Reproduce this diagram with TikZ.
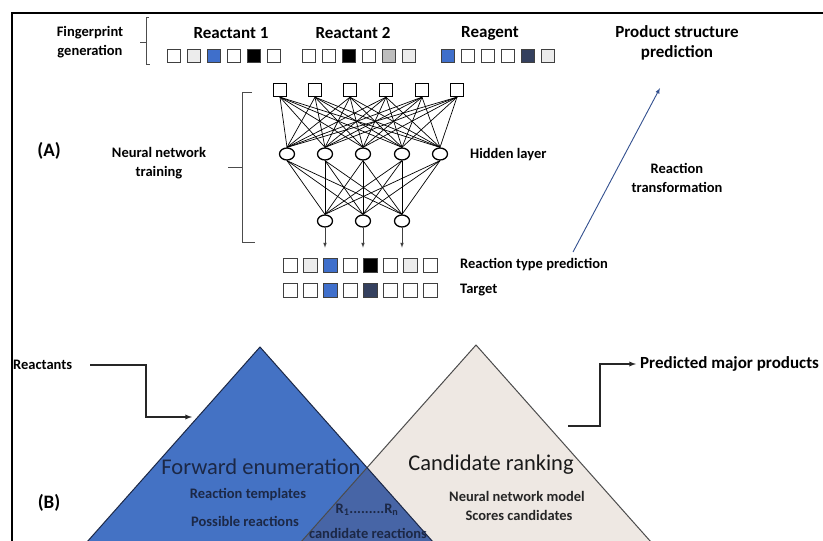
\documentclass[tikz,border=0pt]{standalone}
\usepackage{fontspec}
\setmainfont{Carlito}
\usetikzlibrary{shapes, arrows, positioning, fit, backgrounds}

\definecolor{fpblue}{HTML}{3F6FCB}
\definecolor{fpnavy}{HTML}{34405E}
\definecolor{fpgray}{HTML}{BDBDBD}
\definecolor{fplight}{HTML}{ECECEC}
\definecolor{fwdblue}{HTML}{4472C4}
\definecolor{overlapblue}{HTML}{4765A6}
\definecolor{rankbeige}{HTML}{EEE8E3}
\definecolor{arrowblue}{HTML}{33508F}
\definecolor{textnavy}{HTML}{1C2846}

\tikzset{
  lbl/.style={font=\fontsize{14.5}{19}\selectfont\bfseries, align=center, inner sep=0pt},
  head/.style={font=\fontsize{17}{20}\selectfont\bfseries, align=center, inner sep=0pt},
  part/.style={font=\fontsize{19}{22}\selectfont\bfseries, inner sep=0pt},
  cell/.style={draw=black!75, line width=1pt, minimum size=13pt, inner sep=0pt},
  bigcell/.style={cell, minimum size=14pt},
  inunit/.style={draw, line width=1.3pt, fill=white, minimum size=13pt, inner sep=0pt},
  hidunit/.style={draw, ellipse, line width=1.3pt, fill=white, minimum width=15pt, minimum height=12pt, inner sep=0pt},
  link/.style={line width=0.7pt},
  elbow/.style={line width=1.3pt, black!85, -latex},
  big/.style={font=\fontsize{22.5}{26}\selectfont, inner sep=0pt},
  small/.style={font=\fontsize{14.5}{17}\selectfont\bfseries, inner sep=0pt},
}

\begin{document}
\begin{tikzpicture}[x=1pt, y=-1pt]
\useasboundingbox (0,0) rectangle (823,541);

% Frame
\draw[line width=2pt] (12,541) -- (12,13) -- (823,13);

% (A) fingerprint generation
\node[lbl] (fpgen) at (90,42) {Fingerprint\\generation};
\draw[line width=1pt, black!70] (149,17) -- (146,17) -- (146,64) -- (150,64);
\draw[line width=1pt, black!70] (146,42) -- (140,42);

\node[head] (react1) at (231,33) {Reactant 1};
\node[head] (react2) at (353,33) {Reactant 2};
\node[head] (reagent) at (490,33) {Reagent};
\node[head] (product) at (677,43) {Product structure\\prediction};

\foreach \c [count=\i] in {white,fplight,fpblue,white,black,white}
  \node[cell, fill=\c] (ra\i) at ({174+20*(\i-1)},56) {};
\foreach \c [count=\i] in {white,white,black,white,fpgray,fplight}
  \node[cell, fill=\c] (rb\i) at ({309+20*(\i-1)},56) {};
\foreach \c [count=\i] in {fpblue,white,white,white,fpnavy,fplight}
  \node[cell, fill=\c] (rg\i) at ({448+20*(\i-1)},56) {};

% Neural network
\node[part] (parta) at (49,151) {(A)};
\node[lbl] (nntrain) at (159,163) {Neural network\\training};
\draw[line width=1pt, black!70] (252,92) -- (242,92) -- (242,242) -- (255,242);
\draw[line width=1pt, black!70] (242,167) -- (228,167);

\foreach \x [count=\i] in {280,315,350,386,422,457}
  \node[inunit] (in\i) at (\x,90) {};
\foreach \x [count=\i] in {287,325,363,402,440}
  \node[hidunit] (hid\i) at (\x,154) {};
\foreach \x [count=\i] in {325,363,402}
  \node[hidunit] (out\i) at (\x,221) {};

\begin{scope}[on background layer]
\foreach \i in {1,...,6}
  \foreach \j in {1,...,5}
    \draw[link] (in\i.south) -- (hid\j.north);
\foreach \j in {1,...,5}
  \foreach \k in {1,...,3}
    \draw[link] (hid\j.south) -- (out\k.north);
\end{scope}

\node[lbl, anchor=west] (hidden) at (470,155) {Hidden layer};

\foreach \k in {1,2,3}
  \draw[-latex, line width=0.7pt, black!75] (out\k.south) -- ++(0,20);

% Prediction and target
\foreach \c [count=\i] in {white,fplight,fpblue,white,black,white,fplight,white}
  \node[bigcell, fill=\c] (pr\i) at ({290+20*(\i-1)},265) {};
\foreach \c [count=\i] in {white,white,fpblue,white,fpnavy,white,white,white}
  \node[bigcell, fill=\c] (tg\i) at ({290+20*(\i-1)},290) {};
\node[lbl, anchor=west] (typepred) at (460,265) {Reaction type prediction};
\node[lbl, anchor=west] (target) at (460,290) {Target};

% Reaction transformation
\coordinate (rtstart) at (573,252);
\coordinate (rtend) at (660,88);
\draw[-latex, line width=0.9pt, arrowblue] (rtstart) -- (rtend);
\node[lbl] (rtrans) at (677,178) {Reaction\\transformation};

% (B) triangles
\coordinate (fwdtop) at (260,347);
\coordinate (fwdl) at (71,560);
\coordinate (fwdr) at (449,560);
\coordinate (ranktop) at (476,345);
\coordinate (rankl) at (285,560);
\coordinate (rankr) at (667,560);

\begin{scope}
\clip (0,0) rectangle (823,541);
\fill[rankbeige] (rankl) -- (ranktop) -- (rankr) -- cycle;
\fill[fwdblue] (fwdl) -- (fwdtop) -- (fwdr) -- cycle;
\begin{scope}
\clip (fwdl) -- (fwdtop) -- (fwdr) -- cycle;
\fill[overlapblue] (rankl) -- (ranktop) -- (rankr) -- cycle;
\end{scope}
\draw[line width=1pt, black!70] (rankl) -- (ranktop) -- (rankr);
\draw[line width=1pt, textnavy] (fwdl) -- (fwdtop) -- (fwdr);
\end{scope}

\node[part] (partb) at (49,503) {(B)};

\node[big, textnavy] (fwdenum) at (261,467) {Forward enumeration};
\node[small, textnavy] (templates) at (248,495) {Reaction templates};
\node[small, textnavy] (possible) at (245,521) {Possible reactions};
\node[small, textnavy] (rrange) at (367,510) {R\textsubscript{1}.........R\textsubscript{n}};
\node[small, textnavy] (candreac) at (368,533) {candidate reactions};

\node[big, black!90] (ranking) at (491,465) {Candidate ranking};
\node[small, black!85] (nnmodel) at (517,496) {Neural network model};
\node[small, black!85] (scores) at (519,515) {Scores candidates};

% Inputs and outputs
\node[lbl, anchor=west] (reactants) at (13,365) {Reactants};
\coordinate (fwdentry) at (192,417);
\draw[elbow] ([xshift=18pt]reactants.east) -| (146,417) -- (fwdentry);

\node[head, anchor=west] (predicted) at (640,364) {Predicted major products};
\coordinate (rankexit) at (568,426);
\draw[elbow, shorten >=4pt] (rankexit) -- (600,426) |- (predicted.west);

\end{tikzpicture}
\end{document}
